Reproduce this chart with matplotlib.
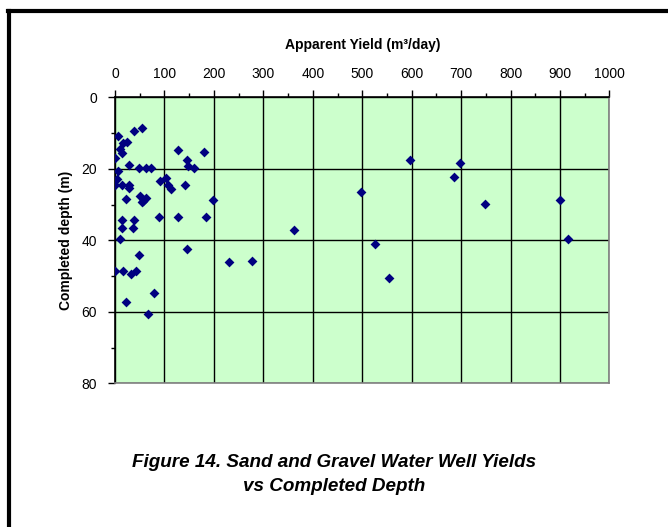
import matplotlib
matplotlib.use('Agg')
import matplotlib.pyplot as plt
from matplotlib.ticker import MultipleLocator

plt.rcParams['font.family'] = ['Liberation Sans', 'DejaVu Sans']

# apparent yield (m3/day) and completed depth (m)
yield_m3 = [6.8, 37.8, 54.6, 15.5, 23.6, 10, 13.5, 0.7, 6.8, 28.3,
            49.2, 62.8, 72.9, 128, 180.8, 145, 148.4, 159.9, 3.4, 0.7,
            13.5, 29, 28.3, 22.3, 50.6, 62.1, 57.3, 55.3, 91.1, 103.2,
            107.9, 114, 141.1, 198.4, 14.2, 38.5, 14.8, 35.8, 89.7, 126.9,
            184.8, 9.5, 145, 49.2, 0.7, 15.5, 31.7, 42.5, 78.9, 22.3,
            66.8, 596.3, 696.8, 684.7, 497.3, 747.6, 899.4, 362.3, 524.9, 915.6,
            230.2, 278, 553.3]
depth_m = [10.8, 9.3, 8.7, 12.8, 12.4, 14.4, 15.6, 16.9, 20.5, 19,
           19.9, 19.9, 19.9, 14.7, 15.3, 17.4, 19.2, 19.9, 22.9, 24.4,
           24.4, 24.5, 25.4, 28.3, 27.5, 28.2, 28.9, 29.4, 23.4, 22.6,
           24.5, 25.7, 24.5, 28.6, 34.3, 34.3, 36.5, 36.5, 33.5, 33.5,
           33.5, 39.5, 42.4, 44.1, 48.6, 48.6, 49.5, 48.6, 54.7, 57.1,
           60.7, 17.5, 18.4, 22.3, 26.6, 29.8, 28.6, 37.1, 41.1, 39.5,
           46.1, 45.7, 50.5]

x_ticks = list(range(0, 1001, 100))
y_ticks = [0, 20, 40, 60, 80]

fig = plt.figure(figsize=(6.68, 5.27), dpi=100)
ax = fig.add_axes([0.1722, 0.2723, 0.7402, 0.5431])
ax.set_facecolor('#CCFFCC')

ax.scatter(yield_m3, depth_m, marker='D', s=25, color='#000080', zorder=3,
           linewidths=0)

ax.set_xlim(0, 1000)
ax.set_ylim(80, 0)
ax.set_xticks(x_ticks)
ax.set_yticks(y_ticks)
ax.xaxis.set_minor_locator(MultipleLocator(50))
ax.yaxis.set_minor_locator(MultipleLocator(10))
ax.xaxis.tick_top()
ax.xaxis.set_label_position('top')
ax.tick_params(which='major', direction='out', length=5, width=1,
               labelsize=10, color='black')
ax.tick_params(axis='x', which='major', pad=7)
ax.tick_params(axis='y', which='major', pad=8)
ax.tick_params(which='minor', direction='out', length=3, width=1,
               color='black')
ax.tick_params(axis='x', which='both', top=True, bottom=False)
ax.tick_params(axis='y', which='both', left=True, right=False)

ax.grid(True, which='major', color='black', linewidth=1)
ax.set_axisbelow(True)

ax.spines['left'].set_color('black')
ax.spines['top'].set_color('black')
ax.spines['right'].set_color('#808080')
ax.spines['bottom'].set_color('#808080')
for s in ax.spines.values():
    s.set_linewidth(1.2)

ax.set_xlabel('Apparent Yield (m\u00b3/day)', fontsize=10, fontweight='bold',
              labelpad=12.5)
ax.set_ylabel('Completed depth (m)', fontsize=10, fontweight='bold',
              labelpad=6)

fig.text(0.5, 0.099, 'Figure 14. Sand and Gravel Water Well Yields\nvs Completed Depth',
         ha='center', va='center', fontsize=13.6, fontweight='bold',
         style='italic', linespacing=1.55)

# page frame: top and left borders
fig.add_artist(plt.Line2D([0.0115, 1.0], [0.9795, 0.9795], color='black',
                          linewidth=3, transform=fig.transFigure))
fig.add_artist(plt.Line2D([0.0135, 0.0135], [0.0, 0.9795], color='black',
                          linewidth=3, transform=fig.transFigure))

fig.savefig('out.png', dpi=100)
